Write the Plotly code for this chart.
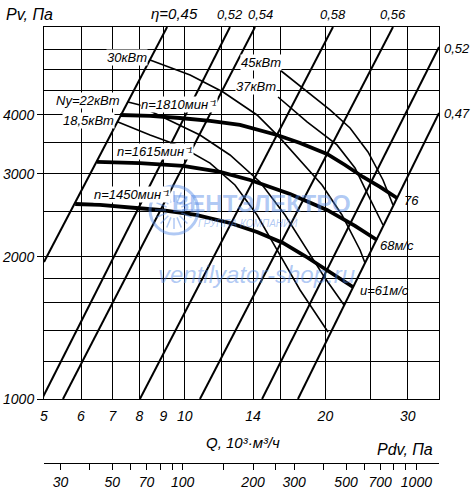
import math
import plotly.graph_objects as go

# ---------------- data (Q in 10^3 m3/h, P in Pa) ----------------
# pressure curves for the three speeds
speed_labels = ["n=1810мин⁻¹", "n=1615мин⁻¹", "n=1450мин⁻¹"]
q_n1810 = [7.28, 8.43, 9.77, 11.33, 13.13, 14.49, 15.76, 17.65, 20.16, 22.03, 24.07, 26.17, 28.46]
p_n1810 = [3997, 3978, 3939, 3882, 3807, 3716, 3626, 3487, 3305, 3132, 2954, 2814, 2666]
q_n1615 = [6.49, 8.02, 9.92, 11.90, 13.80, 16.80, 20.16, 23.14, 25.79]
p_n1615 = [3179, 3162, 3117, 3027, 2911, 2719, 2515, 2326, 2172]
q_n1450 = [5.83, 6.59, 7.87, 8.85, 10.57, 12.50, 14.28, 16.23, 18.09, 20.16, 22.91]
p_n1450 = [2589, 2577, 2539, 2515, 2454, 2360, 2258, 2141, 2009, 1877, 1727]
tip_speed_labels = ["76", "68м/с", "u=61м/с"]

# efficiency lines (straight on log-log), end points
eta_labels = ["0,45", "0,52", "0,54", "0,58", "0,56", "0,52", "0,47"]
eta_q = [[5.0, 9.17], [4.95, 12.5], [5.49, 14.14], [8.02, 20.76], [10.78, 27.9], [14.64, 35.0], [17.47, 35.0]]
eta_p = [[1951, 6140], [1000, 6140], [1000, 6140], [1000, 6140], [1000, 6140], [1000, 5568], [1000, 4037]]

# installed power curves
power_labels = ["18,5кВт", "Ny=22кВт", "30кВт", "37кВт", "45кВт"]
q_N185 = [7.20, 8.43, 9.77, 11.33, 12.81, 14.28, 15.76, 17.65, 20.26]
p_N185 = [3863, 3626, 3437, 3162, 2841, 2454, 2069, 1702, 1387]
q_N22 = [7.56, 8.02, 8.43, 10.78, 12.50, 14.49, 16.39, 18.27, 19.96, 21.92]
p_N22 = [4259, 4197, 4076, 3626, 3289, 2883, 2454, 2069, 1804, 1582]
q_N30 = [8.43, 10.27, 12.08, 14.28, 15.99, 17.65, 19.67, 21.70, 23.72, 24.31]
p_N30 = [5227, 4858, 4472, 3997, 3574, 3210, 2841, 2454, 2069, 1942]
q_N37 = [15.84, 18.27, 21.18, 23.14, 24.67, 26.56]
p_N37 = [4364, 3863, 3454, 3087, 2706, 2337]
q_N45 = [15.99, 17.91, 20.46, 22.58, 24.67, 26.56, 27.90]
p_N45 = [4978, 4560, 4096, 3752, 3338, 2911, 2577]

# axes
q_ticks = [5, 6, 7, 8, 9, 10, 14, 20, 30]
q_minor = [12, 16, 25]
p_ticks = [1000, 2000, 3000, 4000]
p_minor = [1200, 1400, 1600, 1800, 2500, 3500, 4500, 5000, 5500]
pdv_labeled = [30, 50, 70, 100, 200, 300, 500, 700, 1000]
pdv_ticks = [30, 40, 50, 60, 70, 80, 90, 100, 150, 200, 250, 300, 400, 500, 600, 700, 800, 900, 1000]
pdv_coef = 1.02  # Pdv = coef * Q^2
q_range = [5, 35]
p_range = [1000, 6140]

# ---------------- figure ----------------
W, H = 474, 501
ML, MR, MT, MB = 44, 35, 27, 38
FONT = "Liberation Sans, Arial, sans-serif"

fig = go.Figure()

def line(q, p, width):
    fig.add_trace(go.Scatter(x=q, y=p, mode="lines", line=dict(color="black", width=width),
                             showlegend=False, hoverinfo="skip", xaxis="x", yaxis="y"))

for q, p in zip(eta_q, eta_p):
    line(q, p, 2.0)
for q, p in [(q_N185, p_N185), (q_N22, p_N22), (q_N30, p_N30), (q_N37, p_N37), (q_N45, p_N45)]:
    line(q, p, 1.6)
for q, p in [(q_n1810, p_n1810), (q_n1615, p_n1615), (q_n1450, p_n1450)]:
    line(q, p, 3.8)

# invisible trace for the Pdv axis
fig.add_trace(go.Scatter(x=[pdv_coef * q_range[0] ** 2, pdv_coef * q_range[1] ** 2], y=[2000, 2000],
                         mode="markers", marker=dict(opacity=0), showlegend=False,
                         hoverinfo="skip", xaxis="x2", yaxis="y"))

plot_h = H - MT - MB
ydom0 = (H - MB - 399) / plot_h

tickfont = dict(family=FONT, size=14, color="black", style="italic")
fig.update_layout(
    width=W, height=H, margin=dict(l=ML, r=MR, t=MT, b=MB, autoexpand=False),
    paper_bgcolor="white", plot_bgcolor="white",
    xaxis=dict(type="log", range=[math.log10(q_range[0]), math.log10(q_range[1])],
               tickmode="array", tickvals=q_ticks, ticktext=[str(v) for v in q_ticks],
               showgrid=True, gridcolor="black", gridwidth=1, zeroline=False,
               minor=dict(tickmode="array", tickvals=q_minor, showgrid=True, gridcolor="black",
                          gridwidth=1, ticks=""),
               showline=True, linecolor="black", linewidth=1, mirror=True, ticks="",
               tickfont=tickfont, ticklabelstandoff=4, anchor="y", automargin=False),
    yaxis=dict(type="log", range=[math.log10(p_range[0]), math.log10(p_range[1])],
               domain=[ydom0, 1],
               tickmode="array", tickvals=p_ticks, ticktext=[str(v) for v in p_ticks],
               showgrid=True, gridcolor="black", gridwidth=1, zeroline=False,
               minor=dict(tickmode="array", tickvals=p_minor, showgrid=True, gridcolor="black",
                          gridwidth=1, ticks=""),
               showline=True, linecolor="black", linewidth=1, mirror=True,
               ticks="outside", ticklen=6, tickcolor="black", tickfont=tickfont, anchor="x",
               automargin=False),
    xaxis2=dict(type="log", overlaying="x", anchor="free", position=0, side="bottom",
                range=[math.log10(pdv_coef * q_range[0] ** 2), math.log10(pdv_coef * q_range[1] ** 2)],
                tickmode="array", tickvals=pdv_ticks,
                ticktext=[str(v) if v in pdv_labeled else "" for v in pdv_ticks],
                showgrid=False, zeroline=False, showline=True, linecolor="black", linewidth=1,
                ticks="outside", ticklen=6, tickcolor="black", tickfont=tickfont, automargin=False),
)

def pos(x, y):
    return (x - ML) / (W - ML - MR), (H - MB - y) / plot_h

def note(text, x, y, size=13, bg=None, xanchor="center", color="black", bold=False):
    px, py = pos(x, y)
    fig.add_annotation(x=px, y=py, xref="paper", yref="paper", text=("<b>%s</b>" % text) if bold else text,
                       showarrow=False, xanchor=xanchor, yanchor="middle",
                       font=dict(family=FONT, size=size, color=color, style="italic" if not bold else "normal"),
                       bgcolor=bg if bg else "rgba(0,0,0,0)", borderpad=0)

# watermark
wm = "rgba(80,135,230,0.45)"
cx, cy, r = 174, 210, 24
x0, y0 = pos(cx - r, cy + r)
x1, y1 = pos(cx + r, cy - r)
fig.add_shape(type="circle", xref="paper", yref="paper", x0=x0, y0=y0, x1=x1, y1=y1,
              line=dict(color=wm, width=3), layer="above")
for k in range(16):
    a = 2 * math.pi * k / 16
    xa, ya = pos(cx + 8 * math.cos(a), cy + 8 * math.sin(a))
    xb, yb = pos(cx + 19 * math.cos(a), cy + 19 * math.sin(a))
    fig.add_shape(type="line", xref="paper", yref="paper", x0=xa, y0=ya, x1=xb, y1=yb,
                  line=dict(color=wm, width=1.5), layer="above")
note("ВЕНТЭЛЕКТРО", 261, 204, 24, color=wm, bold=True)
note("ГРУППА КОМПАНИЙ", 248, 223, 10, color=wm)
note("ventilyator-shop.ru", 256, 274, 24, color=wm)

# axis titles
note("Pv, Па", 5, 14, 16, xanchor="left")
note("Q, 10³·м³/ч", 243, 442, 15)
note("Pdv, Па", 405, 449, 16)

# efficiency labels
note("η=" + eta_labels[0], 174, 13, 15)
note(eta_labels[1], 230, 15, 13)
note(eta_labels[2], 260, 15, 13)
note(eta_labels[3], 333, 15, 13)
note(eta_labels[4], 393, 15, 13)
note(eta_labels[5], 443, 48, 13, xanchor="left")
note(eta_labels[6], 443, 113, 13, xanchor="left")

# power labels
note(power_labels[0], 88, 120, 13, bg="white")
note(power_labels[1], 88, 100, 13, bg="white")
note(power_labels[2], 127, 57, 13, bg="white")
note(power_labels[3], 256, 86, 13, bg="white")
note(power_labels[4], 261, 63, 13, bg="white")

# speed labels
note(speed_labels[0], 179, 104, 13, bg="white")
note(speed_labels[1], 155, 151, 13, bg="white")
note(speed_labels[2], 132, 194, 13, bg="white")

# tip speed labels
note(tip_speed_labels[0], 411, 200, 13)
note(tip_speed_labels[1], 397, 246, 13)
note(tip_speed_labels[2], 384, 291, 13)

fig.write_html("out.html")
